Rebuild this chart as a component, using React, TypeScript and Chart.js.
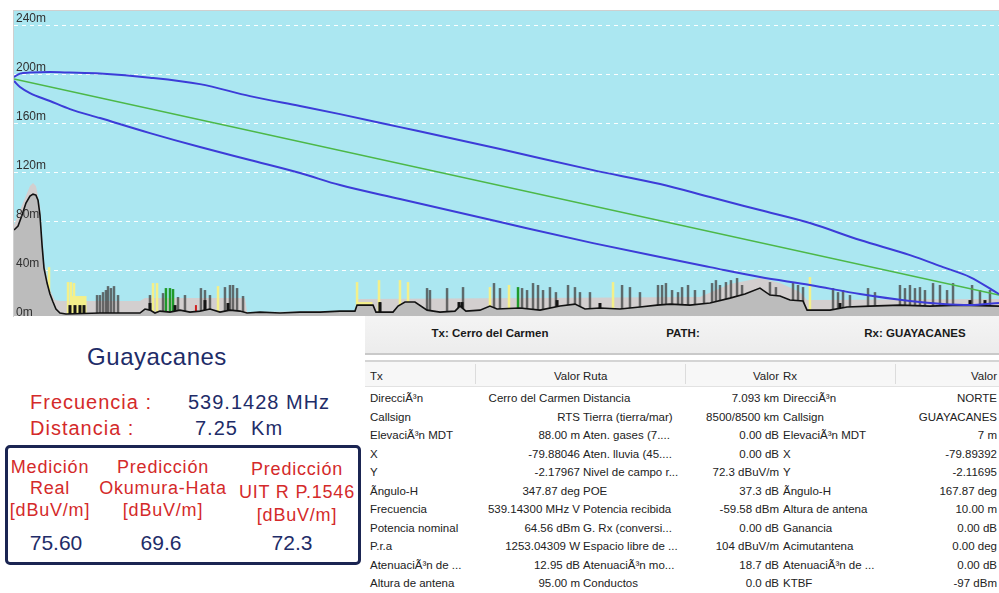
import React, { useEffect, useRef } from "react";
import { Chart, registerables } from "chart.js";

Chart.register(...registerables);

// ---------- profile data (distance in km, height in m) ----------
const yTickValues = [0, 40, 80, 120, 160, 200, 240];

const losDist = [0, 7.092];
const losHeight = [196, 19.6];

const fresnelDist = [0, 0.043, 0.115, 0.259, 0.403, 0.619, 0.979, 1.339, 1.699, 2.059, 2.347, 2.779, 3.5, 4.169, 4.652, 5.011, 5.371, 5.731, 6.091, 6.451, 6.689, 6.883, 7.092];
const fresnelUpper = [197.6, 200.4, 201.2, 201.6, 201.2, 200.4, 197.1, 191.8, 182.0, 173.9, 167.3, 156.7, 138.8, 121.6, 110.2, 99.6, 89.0, 78.4, 64.5, 52.2, 42.4, 34.3, 20.4];
const fresnelLower = [194.3, 189.4, 184.5, 178.0, 171.4, 164.1, 151.8, 140.4, 129.8, 119.2, 109.4, 98.0, 79.2, 62.0, 50.6, 42.4, 34.3, 27.8, 20.4, 14.7, 12.2, 11.4, 13.1];

const terrainDist = [0, 0.029, 0.058, 0.086, 0.115, 0.137, 0.158, 0.173, 0.187, 0.202, 0.216, 0.238, 0.259, 0.281, 0.302, 0.331, 0.374, 0.619, 0.907, 0.943, 0.979, 1.015, 1.051, 1.123, 1.195, 1.267, 1.339, 1.411, 1.483, 1.555, 1.627, 1.678, 1.771, 1.915, 2.059, 2.203, 2.347, 2.455, 2.47, 2.585, 2.606, 2.729, 2.765, 2.815, 2.887, 2.974, 3.067, 3.175, 3.211, 3.254, 3.355, 3.427, 3.478, 3.643, 3.787, 3.931, 4.039, 4.111, 4.219, 4.363, 4.507, 4.63, 4.723, 4.867, 5.011, 5.155, 5.263, 5.371, 5.443, 5.515, 5.587, 5.681, 5.71, 5.875, 5.998, 6.163, 6.379, 6.595, 6.811, 7.092];
const terrainHeight = [72.7, 75.9, 84.9, 94.7, 100.4, 102.0, 101.2, 97.1, 84.9, 60.4, 41.6, 29.4, 20.4, 13.9, 8.2, 4.9, 4.1, 4.9, 4.9, 8.2, 7.3, 4.9, 6.5, 5.7, 7.3, 5.7, 6.5, 8.2, 5.7, 7.3, 6.5, 4.9, 5.7, 4.9, 5.7, 5.7, 6.5, 6.5, 11.4, 11.4, 5.7, 5.7, 10.6, 13.9, 13.9, 7.3, 5.7, 6.5, 10.6, 6.5, 7.3, 10.6, 8.2, 9.0, 7.3, 10.6, 12.2, 8.2, 9.0, 8.2, 9.8, 11.4, 12.2, 11.4, 13.1, 17.1, 20.4, 25.3, 19.6, 18.8, 15.5, 14.7, 7.3, 7.3, 9.8, 10.6, 11.4, 10.6, 11.4, 10.6];

const clutterDist = [0, 0.079, 0.115, 0.137, 0.158, 0.187, 0.216, 0.259, 0.295, 0.331, 0.907, 0.943, 1.663, 1.678, 2.455, 2.47, 4.939, 5.155, 5.371, 5.515, 5.659, 5.71, 7.092];
const clutterHeight = [76.7, 98.8, 108.6, 111.0, 108.6, 93.1, 46.5, 23.7, 15.5, 14.7, 14.7, 17.1, 17.1, 5.7, 6.5, 16.3, 18.0, 28.6, 33.5, 29.4, 22.0, 15.5, 16.3];

const buildingDist = [0.598, 0.619, 0.641, 0.662, 0.677, 0.698, 0.72, 0.749, 0.979, 1.073, 1.181, 1.231, 1.346, 1.375, 1.411, 1.519, 1.555, 1.577, 1.606, 1.649, 2.635, 2.974, 2.995, 3.118, 3.233, 3.456, 3.499, 3.658, 3.694, 3.737, 3.773, 3.809, 3.859, 3.902, 3.989, 4.039, 4.075, 4.147, 4.378, 4.435, 4.507, 4.637, 4.666, 4.694, 4.738, 4.781, 4.81, 4.853, 4.903, 4.968, 5.026, 5.054, 5.083, 5.126, 5.162, 5.206, 5.242, 5.443, 5.486, 5.609, 5.645, 5.681, 5.897, 5.933, 5.969, 6.019, 6.149, 6.199, 6.379, 6.415, 6.451, 6.487, 6.523, 6.559, 6.617, 6.667, 6.718, 6.761, 6.898, 6.955, 7.027];
const buildingHeight = [19.6, 19.6, 22.0, 23.7, 26.9, 25.3, 26.9, 19.6, 19.6, 21.2, 18.0, 19.6, 25.3, 23.7, 19.6, 26.1, 27.8, 27.8, 25.3, 18.8, 13.1, 25.3, 23.7, 25.3, 26.1, 29.4, 25.3, 25.3, 23.7, 29.4, 27.8, 23.7, 26.1, 22.0, 27.8, 26.1, 22.0, 22.0, 27.8, 26.1, 22.0, 27.8, 27.8, 29.4, 23.7, 22.0, 26.1, 27.8, 23.7, 23.7, 29.4, 31.8, 27.8, 30.2, 31.8, 33.5, 27.8, 30.2, 26.1, 30.2, 27.8, 26.1, 25.3, 22.0, 23.7, 19.6, 25.3, 22.0, 27.8, 25.3, 27.8, 25.3, 26.1, 23.7, 29.4, 27.8, 23.7, 29.4, 27.8, 23.7, 23.7];

const footprintDist = [0.403, 0.439, 0.475, 0.504, 0.979, 1.159, 1.375, 1.541, 2.635, 3.204, 3.226, 3.91, 4.219, 5.227, 5.947, 6.883, 6.991];
const footprintHeight = [11.4, 11.4, 11.4, 11.4, 13.1, 11.4, 15.5, 13.1, 13.9, 13.9, 13.9, 15.5, 13.1, 15.5, 13.1, 15.5, 15.5];

const yellowDist = [0.252, 0.389, 0.41, 0.432, 1.001, 1.03, 1.469, 2.47, 2.628, 2.779, 2.837, 3.427, 3.564, 4.313, 5.731];
const yellowHeight = [42.4, 30.2, 30.2, 29.4, 29.4, 29.4, 26.9, 30.2, 31.8, 31.8, 30.2, 26.1, 27.8, 30.2, 34.3];

const yellowBlockDist = [0.468, 2.527];
const yellowBlockHeight = [18.8, 13.9];

const greenDist = [1.094, 1.123, 1.145, 3.629];
const greenHeight = [25.3, 25.3, 24.5, 26.1];

const redDist = [1.31];
const redHeight = [11.4];

// ---------- table data ----------
const txLabels = ["DirecciÃ³n", "Callsign", "ElevaciÃ³n MDT", "X", "Y", "Ãngulo-H", "Frecuencia", "Potencia nominal", "P.r.a", "AtenuaciÃ³n de ...", "Altura de antena"];
const txValues = ["Cerro del Carmen", "RTS", "88.00 m", "-79.88046", "-2.17967", "347.87 deg", "539.14300 MHz V", "64.56 dBm", "1253.04309 W", "12.95 dB", "95.00 m"];
const pathLabels = ["Distancia", "Tierra (tierra/mar)", "Aten. gases (7....", "Aten. lluvia (45....", "Nivel de campo r...", "POE", "Potencia recibida", "G. Rx (conversi...", "Espacio libre de ...", "AtenuaciÃ³n mo...", "Conductos"];
const pathValues = ["7.093 km", "8500/8500 km", "0.00 dB", "0.00 dB", "72.3 dBuV/m", "37.3 dB", "-59.58 dBm", "0.00 dB", "104 dBuV/m", "18.7 dB", "0.0 dB"];
const rxLabels = ["DirecciÃ³n", "Callsign", "ElevaciÃ³n MDT", "X", "Y", "Ãngulo-H", "Altura de antena", "Ganancia", "Acimutantena", "AtenuaciÃ³n de ...", "KTBF"];
const rxValues = ["NORTE", "GUAYACANES", "7 m", "-79.89392", "-2.11695", "167.87 deg", "10.00 m", "0.00 dB", "0.00 deg", "0.00 dB", "-97 dBm"];

const measureHeaders = [["Medición", "Real", "[dBuV/m]"], ["Predicción", "Okumura-Hata", "[dBuV/m]"], ["Predicción", "UIT R P.1546", "[dBuV/m]"]];
const measureValues = ["75.60", "69.6", "72.3"];

const pts = (xs: number[], ys: number[]) => xs.map((x, i) => ({ x, y: ys[i] }));

const FONT = "'Liberation Sans', Arial, sans-serif";
const RED = "#d42a2a";
const NAVY = "#1e2c68";
const Y_MIN = 2.5;
const Y_MAX = 251.5;

function ProfileChart() {
  const ref = useRef<HTMLCanvasElement>(null);
  useEffect(() => {
    const barCommon = { type: "bar" as const, grouped: false, borderWidth: 0, barPercentage: 100 };
    const chart = new Chart(ref.current!, {
      type: "line",
      data: {
        datasets: [
          { data: pts(fresnelDist, fresnelUpper), borderColor: "#3c3cd8", borderWidth: 2, pointRadius: 0, cubicInterpolationMode: "monotone", fill: false, order: 0 },
          { data: pts(fresnelDist, fresnelLower), borderColor: "#3c3cd8", borderWidth: 2, pointRadius: 0, cubicInterpolationMode: "monotone", fill: false, order: 0 },
          { data: pts(losDist, losHeight), borderColor: "#4cb848", borderWidth: 1.5, pointRadius: 0, fill: false, order: 1 },
          { data: pts(terrainDist, terrainHeight), borderColor: "#111111", borderWidth: 1.6, pointRadius: 0, fill: "start", backgroundColor: "#bcbcbc", order: 2 },
          { ...barCommon, data: pts(footprintDist, footprintHeight), backgroundColor: "#151515", maxBarThickness: 3, order: 3 },
          { ...barCommon, data: pts(redDist, redHeight), backgroundColor: "#d02020", maxBarThickness: 2, order: 3 },
          { ...barCommon, data: pts(buildingDist, buildingHeight), backgroundColor: "rgba(70,70,70,0.78)", maxBarThickness: 2.5, order: 4 },
          { ...barCommon, data: pts(greenDist, greenHeight), backgroundColor: "#1f9a2a", maxBarThickness: 2.5, order: 4 },
          { ...barCommon, data: pts(yellowDist, yellowHeight), backgroundColor: "#f4f08a", maxBarThickness: 2.5, order: 5 },
          { ...barCommon, data: pts(yellowBlockDist, yellowBlockHeight), backgroundColor: "#f4f08a", maxBarThickness: 15, order: 5 },
          { data: pts(clutterDist, clutterHeight), borderWidth: 0, borderColor: "rgba(0,0,0,0)", pointRadius: 0, fill: "start", backgroundColor: "#d3cfcf", order: 6 },
        ] as any,
      },
      options: {
        animation: false,
        responsive: false,
        devicePixelRatio: 1,
        layout: { padding: 0, autoPadding: false },
        plugins: { legend: { display: false }, tooltip: { enabled: false } },
        scales: {
          x: { type: "linear", min: 0, max: 7.092, display: false, offset: false, grid: { offset: false } },
          y: {
            type: "linear",
            position: "left",
            min: Y_MIN,
            max: Y_MAX,
            afterBuildTicks: (s: any) => {
              s.ticks = yTickValues.map((v) => ({ value: v }));
            },
            afterFit: (s: any) => {
              s.width = 0;
              s.paddingTop = 0;
              s.paddingBottom = 0;
              s.paddingLeft = 0;
              s.paddingRight = 0;
            },
            ticks: {
              z: 1,
              mirror: true,
              padding: 2,
              labelOffset: -6,
              autoSkip: false,
              color: "#303030",
              font: { family: FONT, size: 12 },
              callback: (v: any) => `${v}m`,
            },
            grid: { z: -1, color: "rgba(255,255,255,0.95)", lineWidth: 1, drawTicks: false },
            border: { display: false, dash: [4, 4] },
          },
        },
      } as any,
    });
    return () => chart.destroy();
  }, []);
  return (
    <canvas
      ref={ref}
      width={985}
      height={305}
      style={{ position: "absolute", left: 14, top: 11, width: 985, height: 305, background: "#abe7f1" }}
    />
  );
}

function Txt(props: { x: number; y: number; align?: "left" | "center" | "right"; style?: React.CSSProperties; children: React.ReactNode }) {
  const { x, y, align = "left", style, children } = props;
  const tx = align === "center" ? "-50%" : align === "right" ? "-100%" : "0";
  return (
    <div style={{ position: "absolute", left: x, top: y, transform: `translate(${tx}, -50%)`, whiteSpace: "pre", lineHeight: 1, ...style }}>
      {children}
    </div>
  );
}

export default function App() {
  const rowY = (i: number) => 399 + i * 18.5;
  const cell: React.CSSProperties = { fontFamily: FONT, fontSize: 11.5, color: "#222" };
  const colHeadY = 377;
  const colX = { a: 370, b: 580, c: 583, d: 779, e: 783, f: 997 };
  const colCenters = [50, 163, 297];
  const colLineY = [
    [467, 488, 510],
    [467, 488, 510],
    [469, 492, 515],
  ];
  const valueX = [56, 161, 292];
  return (
    <div style={{ position: "fixed", left: 0, top: 0, width: 999, height: 593, background: "#ffffff", overflow: "hidden", fontFamily: FONT }}>
      <div style={{ position: "absolute", left: 13, top: 10, width: 986, height: 306, borderTop: "1px solid #cfcfcf", borderLeft: "1px solid #cfcfcf" }} />
      <ProfileChart />

      {/* left summary panel */}
      <Txt x={157} y={357} align="center" style={{ fontSize: 24, color: NAVY, letterSpacing: 0.5 }}>Guayacanes</Txt>
      <Txt x={30} y={402} style={{ fontSize: 20, color: RED, letterSpacing: 1 }}>Frecuencia :</Txt>
      <Txt x={188} y={402} style={{ fontSize: 20, color: NAVY, letterSpacing: 1 }}>539.1428 MHz</Txt>
      <Txt x={30} y={428} style={{ fontSize: 20, color: RED, letterSpacing: 1 }}>Distancia :</Txt>
      <Txt x={195} y={428} style={{ fontSize: 20, color: NAVY, letterSpacing: 1 }}>{"7.25  Km"}</Txt>
      <div style={{ position: "absolute", left: 5, top: 445, width: 350, height: 114, border: "3px solid #1b2552", borderRadius: 5 }} />
      {measureHeaders.map((lines, c) =>
        lines.map((t, k) => (
          <Txt key={`${c}-${k}`} x={colCenters[c]} y={colLineY[c][k]} align="center" style={{ fontSize: 18, color: RED, letterSpacing: 0.8 }}>
            {t}
          </Txt>
        ))
      )}
      {measureValues.map((v, c) => (
        <Txt key={`v${c}`} x={valueX[c]} y={542} align="center" style={{ fontSize: 21, color: NAVY }}>
          {v}
        </Txt>
      ))}

      {/* right table */}
      <div style={{ position: "absolute", left: 365, top: 316, width: 634, height: 277, background: "#ffffff" }} />
      <div style={{ position: "absolute", left: 365, top: 316, width: 634, height: 37, background: "linear-gradient(#f4f4f4, #ececec)" }} />
      <div style={{ position: "absolute", left: 365, top: 353, width: 634, height: 2, background: "#c9c9c9" }} />
      <div style={{ position: "absolute", left: 365, top: 360, width: 634, height: 2, background: "#d4d4d4" }} />
      <div style={{ position: "absolute", left: 365, top: 362, width: 634, height: 24, background: "#f7f7f7", borderBottom: "1px solid #e2e2e2" }} />
      {[475, 685, 895].map((x) => (
        <div key={x} style={{ position: "absolute", left: x, top: 364, width: 1, height: 20, background: "#dcdcdc" }} />
      ))}
      <Txt x={490} y={334} align="center" style={{ ...cell, fontWeight: "bold", color: "#1a1a1a" }}>Tx: Cerro del Carmen</Txt>
      <Txt x={683} y={334} align="center" style={{ ...cell, fontWeight: "bold", color: "#1a1a1a" }}>PATH:</Txt>
      <Txt x={915} y={334} align="center" style={{ ...cell, fontWeight: "bold", color: "#1a1a1a" }}>Rx: GUAYACANES</Txt>

      <Txt x={colX.a} y={colHeadY} style={cell}>Tx</Txt>
      <Txt x={colX.b} y={colHeadY} align="right" style={cell}>Valor</Txt>
      <Txt x={colX.c} y={colHeadY} style={cell}>Ruta</Txt>
      <Txt x={colX.d} y={colHeadY} align="right" style={cell}>Valor</Txt>
      <Txt x={colX.e} y={colHeadY} style={cell}>Rx</Txt>
      <Txt x={colX.f} y={colHeadY} align="right" style={cell}>Valor</Txt>

      {txLabels.map((t, i) => (
        <React.Fragment key={i}>
          <Txt x={colX.a} y={rowY(i)} style={cell}>{t}</Txt>
          <Txt x={colX.b} y={rowY(i)} align="right" style={cell}>{txValues[i]}</Txt>
          <Txt x={colX.c} y={rowY(i)} style={cell}>{pathLabels[i]}</Txt>
          <Txt x={colX.d} y={rowY(i)} align="right" style={cell}>{pathValues[i]}</Txt>
          <Txt x={colX.e} y={rowY(i)} style={cell}>{rxLabels[i]}</Txt>
          <Txt x={colX.f} y={rowY(i)} align="right" style={cell}>{rxValues[i]}</Txt>
        </React.Fragment>
      ))}
    </div>
  );
}
